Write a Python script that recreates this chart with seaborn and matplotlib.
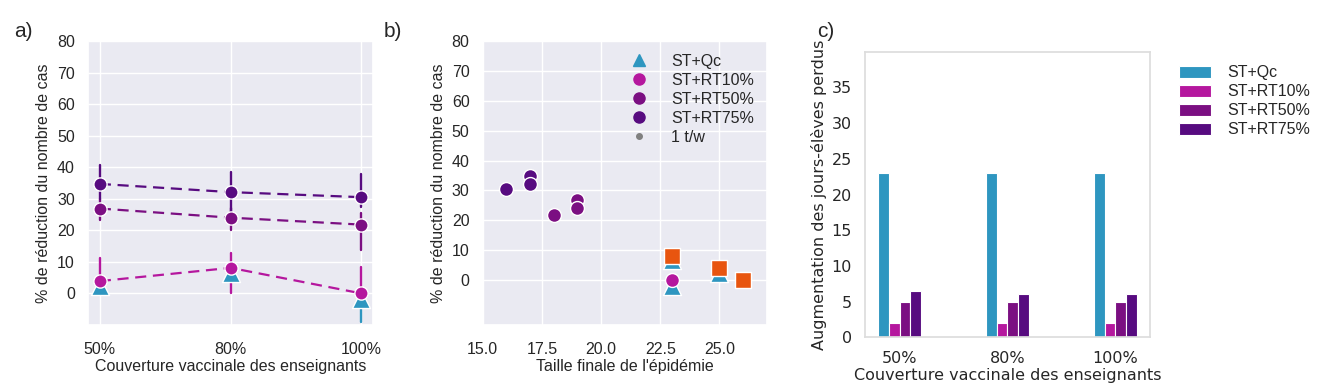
import numpy as np
import pandas as pd
import seaborn as sns
from matplotlib import pyplot as plt
from matplotlib.lines import Line2D

# ---- data ----
coverage = ['50%', '80%', '100%']
strategies = ['ST+Qc', 'ST+RT10%', 'ST+RT50%', 'ST+RT75%']
colors = ['#2e96c0', '#b5179e', '#7b0f82', '#570b80']

# panel a: % reduction of cases (mean, low, high) per coverage
red_qc = [2.4, 6.6, -1.8]
red_qc_lo = [2.4, 6.6, -9.0]
red_qc_hi = [2.4, 6.6, -1.8]
red_rt10 = [3.9, 8.1, 0.0]
red_rt10_lo = [0.0, 0.0, -4.7]
red_rt10_hi = [11.3, 12.7, 8.4]
red_rt50 = [26.9, 24.0, 21.8]
red_rt50_lo = [23.3, 20.1, 13.8]
red_rt50_hi = [29.8, 27.0, 25.6]
red_rt75 = [34.7, 32.1, 30.5]
red_rt75_lo = [29.8, 25.0, 27.5]
red_rt75_hi = [40.8, 38.5, 37.7]

# panel b: final epidemic size vs reduction
size_qc = [25, 23, 23]
size_rt10 = [23]
pts_rt10 = [0.0]
size_rt50 = [19, 19, 18]
size_rt75 = [17, 17, 16]
size_tw = [23, 25, 26]
pts_tw = [8.0, 4.0, 0.0]

# panel c: increase in lost student-days
days_qc = [23, 23, 23]
days_rt10 = [2, 2, 2]
days_rt50 = [5, 5, 5]
days_rt75 = [6.5, 6, 6]

FS = 11.5
FONT = ['Liberation Sans', 'DejaVu Sans']
sns.set_theme(style='darkgrid')
plt.rcParams['font.family'] = FONT
plt.rcParams.update({'font.size': FS, 'axes.labelsize': FS, 'xtick.labelsize': FS,
                     'ytick.labelsize': FS, 'legend.fontsize': FS})

fig = plt.figure(figsize=(13.24, 3.92), dpi=100)
ax_a = fig.add_axes([0.0665, 0.171, 0.2153, 0.7245])
ax_b = fig.add_axes([0.3646, 0.171, 0.2145, 0.7245])
with sns.axes_style('white'):
    ax_c = fig.add_axes([0.6533, 0.1395, 0.2153, 0.7286])

# ---- panel a ----
xpos = np.arange(len(coverage))
series_a = [
    (red_qc, red_qc_lo, red_qc_hi, '^', 13, False),
    (red_rt10, red_rt10_lo, red_rt10_hi, 'o', 9.5, True),
    (red_rt50, red_rt50_lo, red_rt50_hi, 'o', 9.5, True),
    (red_rt75, red_rt75_lo, red_rt75_hi, 'o', 9.5, True),
]
for (vals, lo, hi, mk, ms, dashed), col in zip(series_a, colors):
    for x, l, h in zip(xpos, lo, hi):
        ax_a.plot([x, x], [l, h], color=col, lw=1.7, ls='-', zorder=2)
    if dashed:
        sns.lineplot(x=xpos, y=vals, color=col, lw=1.6, linestyle=(0, (5, 3)),
                     ax=ax_a, zorder=2)
    sns.scatterplot(x=xpos, y=vals, color=col, marker=mk, s=ms ** 2,
                    edgecolor='white', linewidth=1, ax=ax_a, zorder=3)
ax_a.set_xticks(xpos)
ax_a.set_xticklabels(coverage)
ax_a.set_xlim(-0.09, 2.09)
ax_a.set_ylim(-10, 80)
ax_a.set_yticks(range(0, 81, 10))
ax_a.tick_params(axis='x', pad=6)
ax_a.set_xlabel('Couverture vaccinale des enseignants', labelpad=2)
ax_a.set_ylabel('% de réduction du nombre de cas')

# ---- panel b ----
sns.scatterplot(x=size_qc, y=red_qc, color=colors[0], marker='^', s=13 ** 2,
                edgecolor='white', linewidth=1, ax=ax_b, zorder=3)
sns.scatterplot(x=size_tw, y=pts_tw, color='#e8550f', marker='s', s=11 ** 2,
                edgecolor='white', linewidth=1, ax=ax_b, zorder=4)
sns.scatterplot(x=size_rt10, y=pts_rt10, color=colors[1], s=10 ** 2,
                edgecolor='white', linewidth=1, ax=ax_b, zorder=5)
sns.scatterplot(x=size_rt50, y=red_rt50, color=colors[2], s=10 ** 2,
                edgecolor='white', linewidth=1, ax=ax_b, zorder=5)
sns.scatterplot(x=size_rt75, y=red_rt75, color=colors[3], s=10 ** 2,
                edgecolor='white', linewidth=1, ax=ax_b, zorder=5)
ax_b.set_xlim(15, 27)
ax_b.set_ylim(-15, 80)
ax_b.set_yticks(range(0, 81, 10))
ax_b.set_xticks([15, 17.5, 20, 22.5, 25])
ax_b.tick_params(axis='x', pad=6)
ax_b.set_xlabel("Taille finale de l'épidémie", labelpad=2)
ax_b.set_ylabel('% de réduction du nombre de cas')
handles_b = [Line2D([], [], ls='', marker='^', color=colors[0], ms=8)]
handles_b += [Line2D([], [], ls='', marker='o', color=c, ms=8) for c in colors[1:]]
handles_b += [Line2D([], [], ls='', marker='o', color='grey', ms=4)]
ax_b.legend(handles_b, strategies + ['1 t/w'], loc='upper right', frameon=False,
            handlelength=1, handletextpad=1.5, labelspacing=0.25,
            borderaxespad=0.3, bbox_to_anchor=(0.995, 0.995))

# ---- panel c ----
df_c = pd.DataFrame({
    'coverage': coverage * 4,
    'strategy': np.repeat(strategies, len(coverage)),
    'days': days_qc + days_rt10 + days_rt50 + days_rt75,
})
sns.barplot(data=df_c, x='coverage', y='days', hue='strategy', palette=colors,
            saturation=1, width=0.4, edgecolor='white', linewidth=0.8, ax=ax_c)
ax_c.set_xlim(-0.32, 2.32)
ax_c.set_ylim(0, 40)
ax_c.set_yticks(range(0, 40, 5))
for s in ax_c.spines.values():
    s.set_color('#dddddd')
ax_c.tick_params(axis='x', pad=4)
ax_c.set_xlabel('Couverture vaccinale des enseignants', labelpad=1)
ax_c.set_ylabel('Augmentation des jours-élèves perdus', labelpad=3)
ax_c.legend(loc='upper left', bbox_to_anchor=(1.08, 0.975), frameon=False,
            handlelength=2.0, handleheight=0.8, handletextpad=1.0,
            labelspacing=0.25, borderaxespad=0)

# panel labels
for x, lab in [(0.011, 'a)'), (0.29, 'b)'), (0.617, 'c)')]:
    fig.text(x, 0.905, lab, fontsize=15, family=FONT)

fig.savefig('out.png', dpi=100)
